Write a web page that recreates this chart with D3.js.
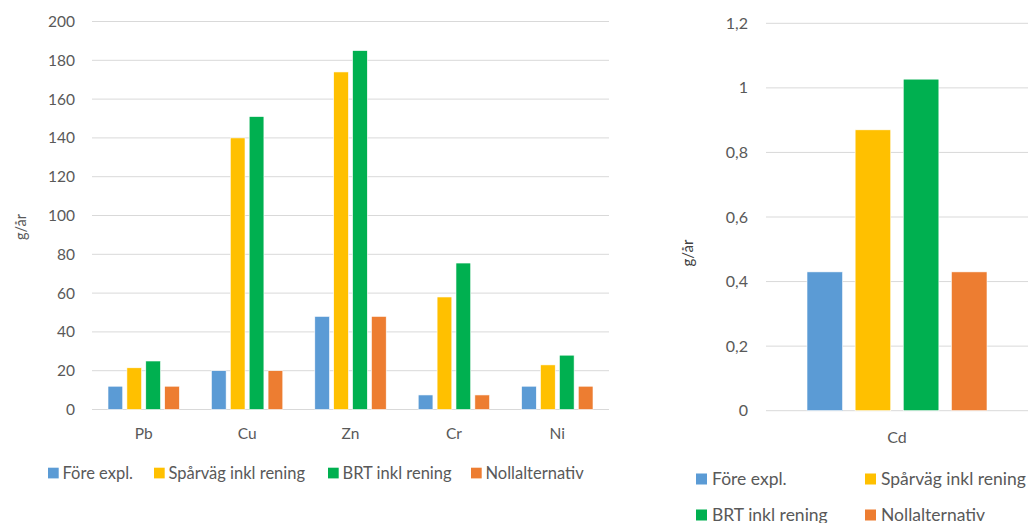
<!DOCTYPE html>
<html>
<head>
<meta charset="utf-8">
<script src="https://cdn.jsdelivr.net/npm/d3@7"></script>
<style>
  body { margin: 0; background: #fff; }
  text { font-family: Lato, "Open Sans", sans-serif; fill: #595959; }
</style>
</head>
<body>
<div id="chart"></div>
<script>
// Data
const series = ["Före expl.", "Spårväg inkl rening", "BRT inkl rening", "Nollalternativ"];
const colors = ["#5B9BD5", "#FFC000", "#00B050", "#ED7D31"];

const metals = ["Pb", "Cu", "Zn", "Cr", "Ni"];
const fore = [12, 20, 48, 7.5, 12];
const sparvag = [21.5, 140, 174, 58, 23];
const brt = [25, 151, 185, 75.5, 28];
const noll = [12, 20, 48, 7.5, 12];

const cdCategory = ["Cd"];
const cdValues = [0.43, 0.87, 1.027, 0.43];

const leftTicks = [0, 20, 40, 60, 80, 100, 120, 140, 160, 180, 200];
const rightTicks = [0, 0.2, 0.4, 0.6, 0.8, 1, 1.2];

const svg = d3.select("#chart").append("svg")
    .attr("width", 1031)
    .attr("height", 523);

const fmtComma = d => String(d).replace(".", ",");

// -------------------------------------------------------------------------
// LEFT CHART
// -------------------------------------------------------------------------
const L = { x0: 92, x1: 609, y0: 409.5, y1: 21.5 };

const xL = d3.scaleBand().domain(metals).range([L.x0, L.x1]);
const xInnerL = d3.scaleBand().domain(series).range([16, xL.bandwidth() - 16]).paddingInner(0.22);
const yL = d3.scaleLinear().domain([0, 200]).range([L.y0, L.y1]);

const left = svg.append("g");

left.append("g")
    .selectAll("line")
    .data(leftTicks)
    .join("line")
    .attr("x1", L.x0).attr("x2", L.x1)
    .attr("y1", d => yL(d)).attr("y2", d => yL(d))
    .attr("stroke", "#D9D9D9")
    .attr("stroke-width", 1);

left.append("g")
    .selectAll("text")
    .data(leftTicks)
    .join("text")
    .attr("x", 75)
    .attr("y", d => yL(d))
    .attr("dy", "0.35em")
    .attr("text-anchor", "end")
    .style("font-size", "15.5px")
    .text(d => d);

const leftRows = metals.map((m, i) => ({ cat: m, vals: [fore[i], sparvag[i], brt[i], noll[i]] }));

left.append("g")
    .selectAll("g")
    .data(leftRows)
    .join("g")
    .attr("transform", d => `translate(${xL(d.cat)},0)`)
    .selectAll("rect")
    .data(d => d.vals.map((v, j) => ({ s: series[j], v, c: colors[j] })))
    .join("rect")
    .attr("x", d => xInnerL(d.s))
    .attr("width", xInnerL.bandwidth())
    .attr("y", d => yL(d.v))
    .attr("height", d => yL(0) - yL(d.v))
    .attr("fill", d => d.c)
    .attr("stroke", "#fff")
    .attr("stroke-width", 0.6);

left.append("g")
    .selectAll("text")
    .data(metals)
    .join("text")
    .attr("x", d => xL(d) + xL.bandwidth() / 2)
    .attr("y", 434)
    .attr("dy", "0.35em")
    .attr("text-anchor", "middle")
    .style("font-size", "15.5px")
    .text(d => d);

left.append("text")
    .attr("transform", "translate(21,227) rotate(-90)")
    .attr("text-anchor", "middle")
    .attr("dy", "0.35em")
    .style("font-size", "14.5px")
    .text("g/år");

// legend
const legendL = [48, 154, 328, 471];
const legL = left.append("g")
    .selectAll("g")
    .data(series)
    .join("g")
    .attr("transform", (d, i) => `translate(${legendL[i]},473)`);
legL.append("rect")
    .attr("y", -5.3).attr("width", 10.7).attr("height", 10.7)
    .attr("fill", (d, i) => colors[i]);
legL.append("text")
    .attr("x", 14.5)
    .attr("dy", "0.35em")
    .style("font-size", "16.5px")
    .text(d => d);

// -------------------------------------------------------------------------
// RIGHT CHART
// -------------------------------------------------------------------------
const R = { x0: 766, x1: 1028, y0: 410.7, y1: 23.3 };

const xR = d3.scaleBand().domain(cdCategory).range([R.x0, R.x1]);
const xInnerR = d3.scaleBand().domain(series).range([41, xR.bandwidth() - 41]).paddingInner(0.26);
const yR = d3.scaleLinear().domain([0, 1.2]).range([R.y0, R.y1]);

const right = svg.append("g");

right.append("g")
    .selectAll("line")
    .data(rightTicks)
    .join("line")
    .attr("x1", R.x0).attr("x2", R.x1)
    .attr("y1", d => yR(d)).attr("y2", d => yR(d))
    .attr("stroke", "#D9D9D9")
    .attr("stroke-width", 1);

right.append("g")
    .selectAll("text")
    .data(rightTicks)
    .join("text")
    .attr("x", 748)
    .attr("y", d => yR(d))
    .attr("dy", "0.35em")
    .attr("text-anchor", "end")
    .style("font-size", "16px")
    .text(d => fmtComma(d));

right.append("g")
    .selectAll("rect")
    .data(cdValues.map((v, j) => ({ s: series[j], v, c: colors[j] })))
    .join("rect")
    .attr("x", d => xR("Cd") + xInnerR(d.s))
    .attr("width", xInnerR.bandwidth())
    .attr("y", d => yR(d.v))
    .attr("height", d => yR(0) - yR(d.v))
    .attr("fill", d => d.c)
    .attr("stroke", "#fff")
    .attr("stroke-width", 0.6);

right.append("text")
    .attr("x", xR("Cd") + xR.bandwidth() / 2)
    .attr("y", 437)
    .attr("dy", "0.35em")
    .attr("text-anchor", "middle")
    .style("font-size", "16px")
    .text("Cd");

right.append("text")
    .attr("transform", "translate(688,253) rotate(-90)")
    .attr("text-anchor", "middle")
    .attr("dy", "0.35em")
    .style("font-size", "15px")
    .style("fill", "#404040")
    .text("g/år");

const legendR = [[696, 479], [865, 479], [696, 515], [865, 515]];
const legR = right.append("g")
    .selectAll("g")
    .data(series)
    .join("g")
    .attr("transform", (d, i) => `translate(${legendR[i][0]},${legendR[i][1]})`);
legR.append("rect")
    .attr("y", -5.5).attr("width", 11).attr("height", 11)
    .attr("fill", (d, i) => colors[i]);
legR.append("text")
    .attr("x", 16)
    .attr("dy", "0.35em")
    .style("font-size", "17.5px")
    .text(d => d);
</script>
</body>
</html>
